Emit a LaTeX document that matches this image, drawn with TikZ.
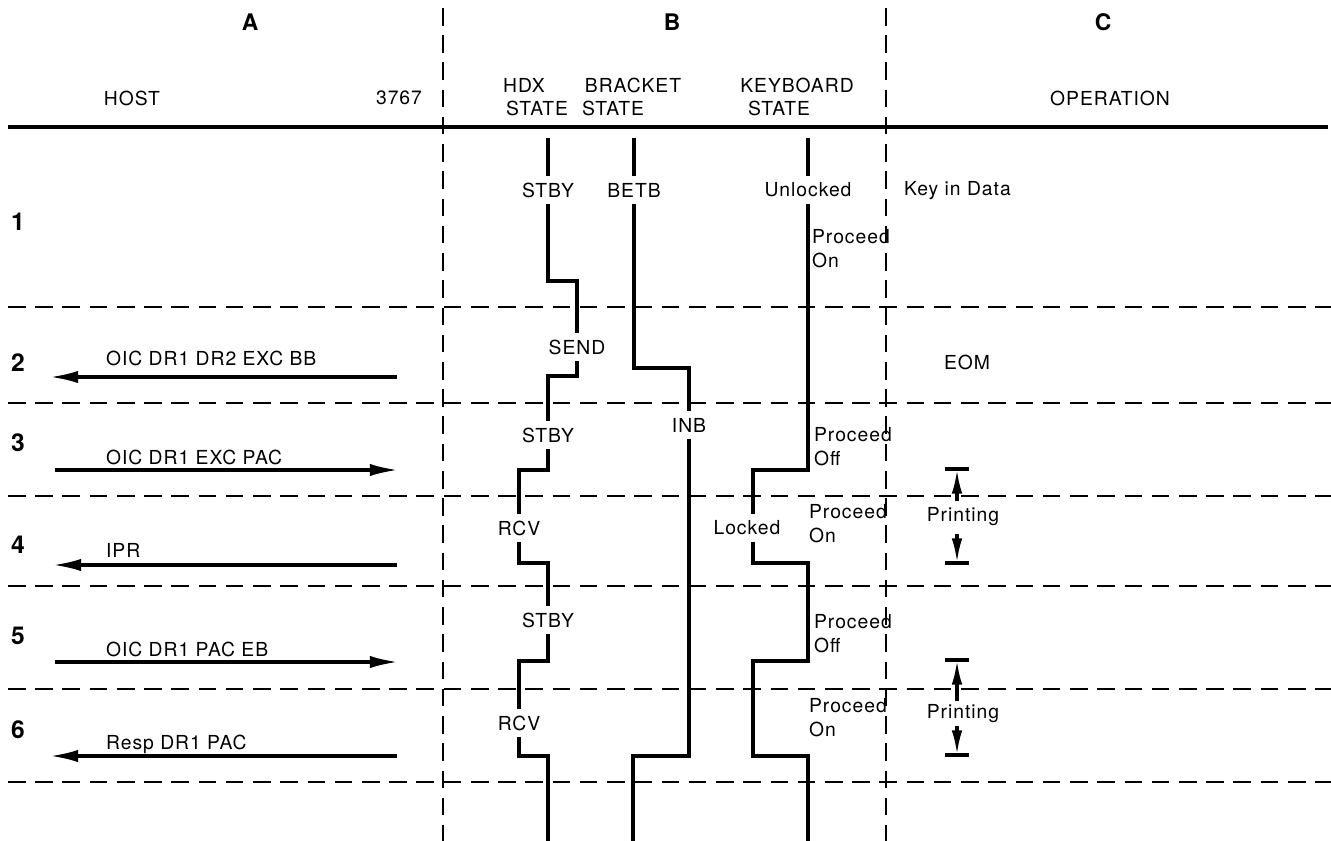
\documentclass[tikz,border=0pt]{standalone}
\usepackage{fontspec}
\setmainfont{TeX Gyre Heros}[LetterSpace=5]
\usetikzlibrary{arrows.meta}

\begin{document}
\begin{tikzpicture}[x=0.02cm, y=-0.02cm,
  every node/.style={font=\fontsize{11}{13.6}\selectfont, inner sep=1pt},
  lbl/.style={inner xsep=2pt, inner ysep=3.5pt},
  sline/.style={line width=2.2pt, line join=miter},
  grid/.style={line width=1.4pt, dash pattern=on 10pt off 5.5pt},
  msg/.style={line width=1.8pt, -{Latex[length=16pt,width=7pt]}},
  prt/.style={line width=1.8pt, -{Latex[length=14pt,width=6pt]}},
  bar/.style={line width=2.2pt},
  rownum/.style={font=\fontsize{14}{16}\selectfont\bfseries},
  colhead/.style={font=\fontsize{13}{15}\selectfont\bfseries}]
  \useasboundingbox (0,0) rectangle (1331,841);
  % column heads
  \node[colhead] (ca) at (250,22) {A};
  \node[colhead] (cb) at (672,22) {B};
  \node[colhead] (cc) at (1103,22) {C};
  \node (host) at (132,98) {HOST};
  \node (term) at (399,98) {3767};
  \node (hdx) at (524,85) {HDX};
  \node (hdxs) at (537,108) {STATE};
  \node (brk) at (633,85) {BRACKET};
  \node (brks) at (613,108) {STATE};
  \node (kbd) at (797,85) {KEYBOARD};
  \node (kbds) at (779,108) {STATE};
  \node (oper) at (1110,98) {OPERATION};
  \draw[line width=2.2pt] (8,127) -- (1328,127);
  % grid
  \foreach \x in {443,886}
    \draw[grid] (\x,8) -- (\x,841);
  \foreach \y in {307,403,496,586,689,782}
    \draw[grid] (8,\y) -- (1331,\y);
  % row numbers
  \foreach \n/\y in {1/222,2/363,3/443,4/545,5/636,6/730}
    \node[rownum] (row\n) at (18,\y) {\n};
  % messages host <-> 3767
  \coordinate (h2) at (50,377);  \coordinate (t2) at (397,377);
  \coordinate (h3) at (55,470);  \coordinate (t3) at (398,470);
  \coordinate (h4) at (53,565);  \coordinate (t4) at (397,565);
  \coordinate (h5) at (55,662);  \coordinate (t5) at (398,662);
  \coordinate (h6) at (50,756);  \coordinate (t6) at (397,756);
  \draw[msg] (t2) -- (h2);
  \draw[msg] (h3) -- (t3);
  \draw[msg] (t4) -- (h4);
  \draw[msg] (h5) -- (t5);
  \draw[msg] (t6) -- (h6);
  \node[anchor=west] (m2) at (104,358) {OIC DR1 DR2 EXC BB};
  \node[anchor=west] (m3) at (104,457) {OIC DR1 EXC PAC};
  \node[anchor=west] (m4) at (104,550) {IPR};
  \node[anchor=west] (m5) at (104,649) {OIC DR1 PAC EB};
  \node[anchor=west] (m6) at (104,744) {Resp DR1 PAC};
  % HDX state
  \node[lbl] (hdx1) at (548,190) {STBY};
  \node[lbl] (hdx2) at (577,347) {SEND};
  \node[lbl] (hdx3) at (548,435) {STBY};
  \node[lbl] (hdx4) at (519,528) {RCV};
  \node[lbl] (hdx5) at (548,620) {STBY};
  \node[lbl] (hdx6) at (519,723) {RCV};
  \draw[sline] (548,138) -- (hdx1);
  \draw[sline] (hdx1) -- (548,281) -- (577,281) -- (hdx2);
  \draw[sline] (hdx2) -- (577,376) -- (548,376) -- (hdx3);
  \draw[sline] (hdx3) -- (548,470) -- (519,470) -- (hdx4);
  \draw[sline] (hdx4) -- (519,563) -- (548,563) -- (hdx5);
  \draw[sline] (hdx5) -- (548,661) -- (519,661) -- (hdx6);
  \draw[sline] (hdx6) -- (519,756) -- (548,756) -- (548,841);
  % bracket state
  \node[lbl] (brk1) at (634,190) {BETB};
  \node[lbl] (brk2) at (689,425) {INB};
  \draw[sline] (634,138) -- (brk1);
  \draw[sline] (brk1) -- (634,368) -- (689,368) -- (brk2);
  \draw[sline] (brk2) -- (689,756) -- (633,756) -- (633,841);
  % keyboard state
  \node[lbl] (kbd1) at (808,190) {Unlocked};
  \node[lbl] (kbd2) at (747,528) {Locked};
  \coordinate (k2) at (753,470);
  \draw[sline] (808,138) -- (kbd1);
  \draw[sline] (kbd1) -- (808,470) -- (k2) -- (k2 |- kbd2.north);
  \draw[sline] (k2 |- kbd2.south) -- (753,563) -- (808,563) -- (808,661)
    -- (753,661) -- (753,756) -- (808,756) -- (808,841);
  \node[anchor=west, align=left] (pr1) at (810,249) {Proceed\\On};
  \node[anchor=west, align=left] (pr3) at (812,447) {Proceed\\Off};
  \node[anchor=west, align=left] (pr4) at (807,524) {Proceed\\On};
  \node[anchor=west, align=left] (pr5) at (812,634) {Proceed\\Off};
  \node[anchor=west, align=left] (pr6) at (807,718) {Proceed\\On};
  % operation
  \node[anchor=west] (key) at (902,191) {Key in Data};
  \node (eom) at (967,362) {EOM};
  \node (prt1) at (963,517) {Printing};
  \node (prt2) at (963,714) {Printing};
  \coordinate (b1t) at (957,469); \coordinate (a1t) at (957,501);
  \coordinate (b1b) at (957,563); \coordinate (a1b) at (957,534);
  \coordinate (b2t) at (957,660); \coordinate (a2t) at (957,701);
  \coordinate (b2b) at (957,755); \coordinate (a2b) at (957,726);
  \draw[prt] (a1t) -- (b1t);
  \draw[prt] (a1b) -- (b1b);
  \draw[prt] (a2t) -- (b2t);
  \draw[prt] (a2b) -- (b2b);
  \foreach \b in {b1t,b1b,b2t,b2b}
    \draw[bar] (\b) +(-12,0) -- +(12,0);
\end{tikzpicture}
\end{document}
